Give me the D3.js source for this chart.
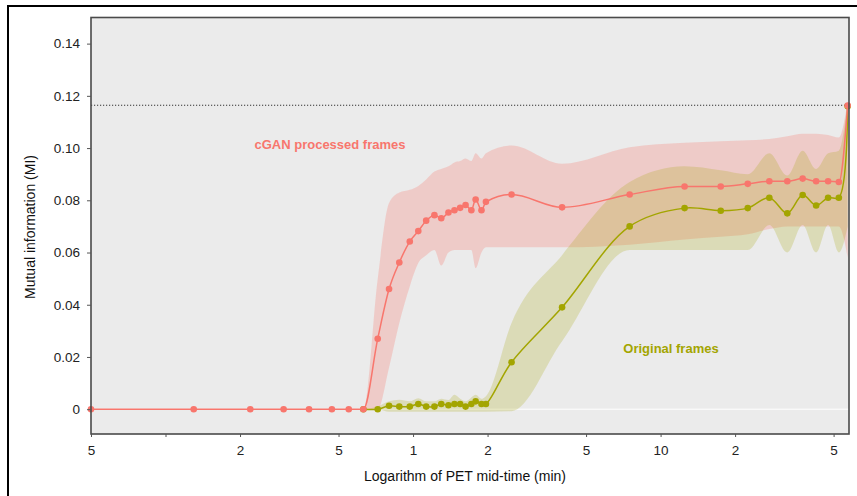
<!DOCTYPE html>
<html>
<head>
<meta charset="utf-8">
<script src="https://cdn.jsdelivr.net/npm/d3@7"></script>
<style>
  body { margin: 0; background: #fff; }
  text { font-family: "Liberation Sans", Arial, sans-serif; }
</style>
</head>
<body>
<svg id="chart"></svg>
<script>
// PET mid-times (min)
let times = [0.05, 0.13, 0.22, 0.30, 0.38, 0.47, 0.55, 0.63, 0.72, 0.80, 0.88, 0.97,
  1.05, 1.13, 1.22, 1.30, 1.39, 1.47, 1.55, 1.63, 1.72, 1.79, 1.89, 1.97,
  2.5, 4.0, 7.5, 12.5, 17.5, 22.5, 27.5, 32.5, 37.5, 42.5, 47.5, 52.5, 57.0]

// cGAN processed frames
let cganMI = [0, 0, 0, 0, 0, 0, 0, 0, 0.027, 0.046, 0.0562, 0.0642,
  0.0682, 0.0722, 0.0743, 0.0731, 0.0753, 0.0762, 0.0771, 0.0782, 0.0762, 0.0803, 0.0762, 0.0794,
  0.0822, 0.0773, 0.0822, 0.0853, 0.0853, 0.0863, 0.0873, 0.0873, 0.0883, 0.0873, 0.0873, 0.087, 0.1163]
let cganLo = [0, 0, 0, 0, 0, 0, 0, 0, 0, 0.016, 0.033, 0.047,
  0.056, 0.059, 0.061, 0.055, 0.060, 0.061, 0.061, 0.061, 0.061, 0.054, 0.060, 0.062,
  0.062, 0.062, 0.063, 0.065, 0.066, 0.067, 0.069, 0.070, 0.070, 0.070, 0.070, 0.070, 0.058]
let cganHi = [0, 0, 0, 0, 0, 0, 0, 0, 0.050, 0.079, 0.083, 0.084,
  0.0855, 0.088, 0.091, 0.092, 0.093, 0.0945, 0.095, 0.096, 0.095, 0.098, 0.096, 0.098,
  0.101, 0.094, 0.1003, 0.102, 0.1026, 0.103, 0.1035, 0.1045, 0.1055, 0.1055, 0.105, 0.104, 0.118]

// original frames (start at 0.63 min)
let origTimes = times.slice(7)
let origMI = [0, 0, 0.0013, 0.001, 0.001, 0.002, 0.001, 0.001, 0.002, 0.0015, 0.002, 0.002,
  0.001, 0.002, 0.003, 0.002, 0.002,
  0.018, 0.039, 0.070, 0.077, 0.076, 0.077, 0.081, 0.075, 0.082, 0.078, 0.081, 0.081, 0.116]
let origLo = [0, 0, -0.001, -0.001, -0.001, -0.001, -0.001, -0.001, -0.001, -0.001, -0.001, -0.001,
  -0.001, -0.001, -0.001, -0.001, -0.001,
  -0.0008, 0.026, 0.061, 0.061, 0.061, 0.061, 0.0705, 0.060, 0.0705, 0.060, 0.0705, 0.060, 0.070]
let origHi = [0, 0.001, 0.003, 0.0036, 0.003, 0.0042, 0.003, 0.003, 0.004, 0.0035, 0.0055, 0.004,
  0.003, 0.0045, 0.0055, 0.004, 0.005,
  0.033, 0.059, 0.087, 0.093, 0.0915, 0.090, 0.098, 0.0895, 0.099, 0.092, 0.098, 0.099, 0.118]

let refMI = 0.1164

let xTicks = [0.05, 0.1, 0.2, 0.5, 1, 2, 5, 10, 20, 50]
let xTickLabels = ['5', '', '2', '5', '1', '2', '5', '10', '2', '5']
let yTicks = [0, 0.02, 0.04, 0.06, 0.08, 0.10, 0.12, 0.14]

let w = 857
let h = 496
let pLeft = 91, pRight = 849, pTop = 17.5, pBottom = 434

let red = '#F8766D'
let olive = '#A3A500'

let svg = d3.select('#chart').attr('width', w).attr('height', h)

let xScale = d3.scaleLog().domain([0.05, 57.7]).range([pLeft, pRight])
let yScale = d3.scaleLinear().domain([-0.0095, 0.15]).range([pBottom, pTop])

// outer frame (only top/left edges fall inside the picture)
svg.append('rect')
   .attr('x', 8).attr('y', 6).attr('width', 900).attr('height', 600)
   .attr('fill', 'none').attr('stroke', '#000').attr('stroke-width', 2)

// panel
svg.append('rect')
   .attr('x', pLeft).attr('y', pTop)
   .attr('width', pRight - pLeft).attr('height', pBottom - pTop)
   .attr('fill', '#ebebeb')

let plot = svg.append('g')

plot.append('line')
    .attr('x1', pLeft).attr('x2', pRight)
    .attr('y1', yScale(0)).attr('y2', yScale(0))
    .attr('stroke', '#fff').attr('stroke-width', 1)

let makeRows = (ts, v, lo, hi) => ts.map((t, i) => ({t: t, v: v[i], lo: lo[i], hi: hi[i]}))
let cganRows = makeRows(times, cganMI, cganLo, cganHi)
let origRows = makeRows(origTimes, origMI, origLo, origHi)

let band = d3.area()
  .x(d => xScale(d.t))
  .y0(d => yScale(d.lo))
  .y1(d => yScale(d.hi))
  .curve(d3.curveMonotoneX)

let cganLine = d3.line()
  .x(d => xScale(d.t))
  .y(d => yScale(d.v))
  .curve(d3.curveMonotoneX)

let origLine = d3.line()
  .x(d => xScale(d.t))
  .y(d => yScale(d.v))
  .curve(d3.curveCatmullRom.alpha(0.5))

plot.append('path').datum(cganRows)
    .attr('d', band).attr('fill', red).attr('fill-opacity', 0.27)
plot.append('path').datum(origRows)
    .attr('d', band).attr('fill', olive).attr('fill-opacity', 0.22)

plot.append('line')
    .attr('x1', pLeft).attr('x2', pRight)
    .attr('y1', yScale(refMI)).attr('y2', yScale(refMI))
    .attr('stroke', '#333').attr('stroke-width', 1.2)
    .attr('stroke-dasharray', '1.2,1.8')

plot.append('path').datum(origRows)
    .attr('d', origLine).attr('fill', 'none').attr('stroke', olive).attr('stroke-width', 1.5)
plot.selectAll('circle.orig')
    .data(origRows).enter().append('circle')
    .attr('class', 'orig')
    .attr('cx', d => xScale(d.t)).attr('cy', d => yScale(d.v))
    .attr('r', 3.3).attr('fill', olive)

plot.append('path').datum(cganRows)
    .attr('d', cganLine).attr('fill', 'none').attr('stroke', red).attr('stroke-width', 1.5)
plot.selectAll('circle.cgan')
    .data(cganRows).enter().append('circle')
    .attr('class', 'cgan')
    .attr('cx', d => xScale(d.t)).attr('cy', d => yScale(d.v))
    .attr('r', 3.3).attr('fill', red)

// panel border
svg.append('rect')
   .attr('x', pLeft).attr('y', pTop)
   .attr('width', pRight - pLeft).attr('height', pBottom - pTop)
   .attr('fill', 'none').attr('stroke', '#4a4a4a').attr('stroke-width', 1.6)

// axes
let xAxis = d3.axisBottom(xScale)
  .tickValues(xTicks)
  .tickFormat((d, i) => xTickLabels[i])
  .tickSize(3).tickPadding(8)
svg.append('g')
   .attr('transform', 'translate(0,' + pBottom + ')')
   .call(xAxis)

let yAxis = d3.axisLeft(yScale)
  .tickValues(yTicks)
  .tickFormat(d => d === 0 ? '0' : d3.format('.2f')(d))
  .tickSize(4).tickPadding(7)
svg.append('g')
   .attr('transform', 'translate(' + pLeft + ',0)')
   .call(yAxis)

svg.selectAll('.domain').remove()
svg.selectAll('.tick line').attr('stroke', '#555')
svg.selectAll('.tick text').attr('fill', '#222').style('font-size', '13.5px')

svg.append('text')
   .attr('x', 465).attr('y', 481)
   .attr('text-anchor', 'middle')
   .style('font-size', '14px').attr('fill', '#111')
   .text('Logarithm of PET mid-time (min)')

svg.append('text')
   .attr('transform', 'translate(35,227) rotate(-90)')
   .attr('text-anchor', 'middle')
   .style('font-size', '14px').attr('fill', '#111')
   .text('Mutual information (MI)')

// annotations
svg.append('text')
   .attr('x', 330).attr('y', 149)
   .attr('text-anchor', 'middle')
   .style('font-size', '13px').style('font-weight', 'bold')
   .attr('fill', red)
   .text('cGAN processed frames')

svg.append('text')
   .attr('x', 671).attr('y', 353)
   .attr('text-anchor', 'middle')
   .style('font-size', '13px').style('font-weight', 'bold')
   .attr('fill', olive)
   .text('Original frames')
</script>
</body>
</html>
